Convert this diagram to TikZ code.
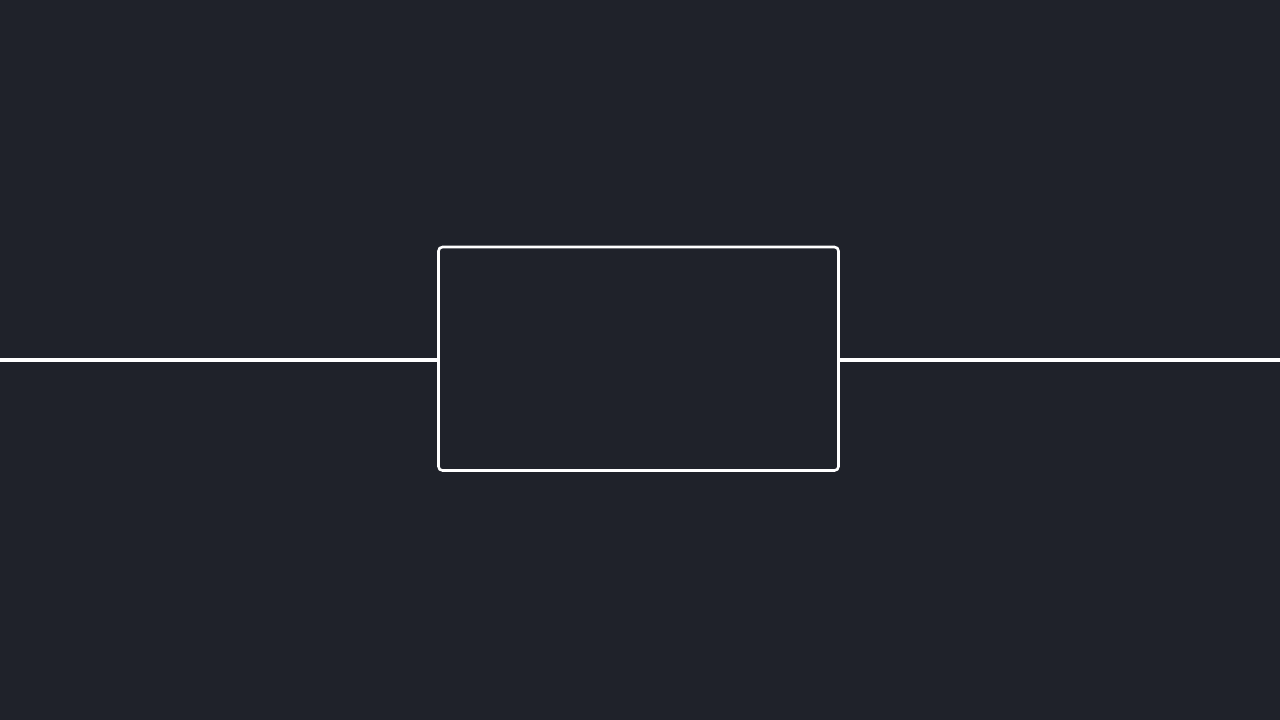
\documentclass[tikz,border=0pt]{standalone}
\definecolor{bg}{HTML}{1F222A}
\begin{document}
\begin{tikzpicture}[x=1pt,y=-1pt,
  boxstyle/.style={draw=white,line width=2.6pt,rounded corners=4pt,minimum width=400pt,minimum height=223.5pt,inner sep=0pt,fill=bg},
  wire/.style={draw=white,line width=3.2pt}]
\fill[bg] (0,0) rectangle (1280,720);
\useasboundingbox (0,0) rectangle (1280,720);
\coordinate (L) at (0,360);
\coordinate (R) at (1280,360);
\node[boxstyle] (box) at (638.5,358.75) {};
\draw[wire] (L) -- (L -| box.west);
\draw[wire] (R) -- (R -| box.east);
\end{tikzpicture}
\end{document}
